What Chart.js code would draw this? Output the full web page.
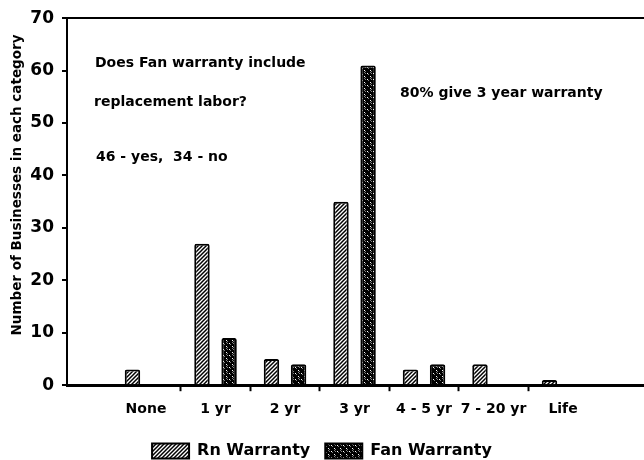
<!DOCTYPE html>
<html>
<head>
<meta charset="utf-8">
<script src="https://cdn.jsdelivr.net/npm/chart.js@4.4.1/dist/chart.umd.min.js"></script>
<style>
  body { margin: 0; background: #fff; }
  #wrap { position: relative; width: 644px; height: 460px; }
</style>
</head>
<body>
<div id="wrap"><canvas id="warranty-chart"></canvas></div>
<script>
// Chart data
var categories = ["None", "1 yr", "2 yr", "3 yr", "4 - 5 yr", "7 - 20 yr", "Life"];
var rnWarranty = [3, 27, 5, 35, 3, 4, 1];
var fanWarranty = [0, 9, 4, 61, 4, 0, 0];
var yTicks = [0, 10, 20, 30, 40, 50, 60, 70];

var yTitle = "Number of Businesses in each category";
var noteLines = ["Does Fan warranty include", "replacement labor?", "46 - yes,  34 - no"];
var noteRight = "80% give 3 year warranty";

var FONT = "'DejaVu Sans', sans-serif";

document.addEventListener("DOMContentLoaded", function () {
  // Hatch fills for the two series
  function makePattern(draw, size) {
    var c = document.createElement("canvas");
    c.width = size;
    c.height = size;
    var g = c.getContext("2d");
    draw(g, size);
    return g.createPattern(c, "repeat");
  }

  var rnFill = makePattern(function (g, s) {
    g.fillStyle = "#fff";
    g.fillRect(0, 0, s, s);
    g.strokeStyle = "#000";
    g.lineWidth = 1.5;
    g.beginPath();
    g.moveTo(-1, 1); g.lineTo(1, -1);
    g.moveTo(0, s); g.lineTo(s, 0);
    g.moveTo(s - 1, s + 1); g.lineTo(s + 1, s - 1);
    g.stroke();
  }, 4);

  var fanFill = makePattern(function (g, s) {
    g.fillStyle = "#000";
    g.fillRect(0, 0, s, s);
    g.strokeStyle = "#fff";
    g.lineWidth = 1;
    g.beginPath();
    g.moveTo(1, 1); g.lineTo(2.5, 2.5);
    g.moveTo(4, 4); g.lineTo(5.5, 5.5);
    g.moveTo(4.5, 0.5); g.lineTo(5.5, 1.5);
    g.stroke();
  }, 6);

  function points(values) {
    return values.map(function (v, i) {
      return { x: i, y: v };
    });
  }

  // Text notes inside the plot, and the y title
  var notesPlugin = {
    id: "notes",
    afterDraw: function (chart) {
      var ctx = chart.ctx;
      var area = chart.chartArea;
      ctx.save();
      ctx.fillStyle = "#000";
      ctx.font = "bold 14px " + FONT;
      ctx.textBaseline = "middle";
      ctx.textAlign = "left";
      ctx.fillText(noteLines[0], area.left + 28, area.top + 45);
      ctx.fillText(noteLines[1], area.left + 27, area.top + 84);
      ctx.fillText(noteLines[2], area.left + 29, area.top + 139);
      ctx.fillText(noteRight, area.left + 333, area.top + 75);

      ctx.translate(17, 185);
      ctx.rotate(-Math.PI / 2);
      ctx.textAlign = "center";
      ctx.font = "bold 13.5px " + FONT;
      ctx.fillText(yTitle, 0, 0);
      ctx.restore();
    },
  };

  var barOptions = {
    borderColor: "#000",
    borderWidth: 2,
    borderRadius: 2,
    categoryPercentage: 0.78,
    barPercentage: 0.57,
  };

  new Chart(document.getElementById("warranty-chart"), {
    type: "bar",
    data: {
      datasets: [
        {
          label: "Rn Warranty",
          data: points(rnWarranty),
          ...barOptions,
          backgroundColor: rnFill,
        },
        {
          label: "Fan Warranty",
          data: points(fanWarranty),
          ...barOptions,
          backgroundColor: fanFill,
        },
      ],
    },
    options: {
      responsive: true,
      maintainAspectRatio: false,
      animation: false,
      layout: {
        padding: { top: 18, right: 0, left: 0, bottom: 0 },
      },
      plugins: {
        tooltip: { enabled: false },
        legend: {
          position: "bottom",
          maxHeight: 32,
          labels: {
            color: "#000",
            font: { family: FONT, size: 16, weight: "bold" },
            boxWidth: 37,
            boxHeight: 15,
            padding: 15,
          },
        },
      },
      scales: {
        x: {
          type: "linear",
          offset: false,
          min: -1.137,
          max: 7.165,
          border: { color: "#000", width: 3 },
          grid: {
            offset: true,
            drawOnChartArea: false,
            tickLength: 6,
            tickWidth: 2,
            tickColor: function (c) {
              return c.index >= 2 && c.index <= 7 ? "#000" : "rgba(0,0,0,0)";
            },
          },
          ticks: {
            stepSize: 1,
            includeBounds: false,
            autoSkip: false,
            maxRotation: 0,
            padding: 10,
            color: "#000",
            font: { family: FONT, size: 14, weight: "bold" },
            callback: function (value) {
              return categories[value] !== undefined ? categories[value] : "";
            },
          },
        },
        y: {
          min: yTicks[0],
          max: yTicks[yTicks.length - 1],
          afterFit: function (scale) {
            scale.width = 67;
          },
          border: { color: "#000", width: 2 },
          grid: {
            lineWidth: 2,
            tickLength: 5,
            tickWidth: 2,
            tickColor: "#000",
            color: function (c) {
              return c.tick && c.tick.value === yTicks[yTicks.length - 1] ? "#000" : "rgba(0,0,0,0)";
            },
          },
          ticks: {
            stepSize: 10,
            padding: 8,
            color: "#000",
            font: { family: FONT, size: 17, weight: "bold" },
          },
        },
      },
    },
    plugins: [notesPlugin],
  });
});
</script>
</body>
</html>
